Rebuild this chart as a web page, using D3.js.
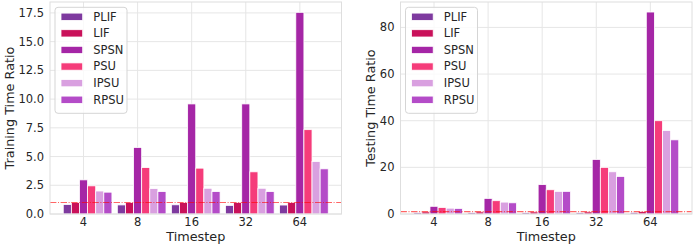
<!DOCTYPE html>
<html>
<head>
<meta charset="utf-8">
<script src="https://cdn.jsdelivr.net/npm/d3@7"></script>
<style>
  body { margin: 0; background: #fff; }
  svg { display: block; font-family: 'DejaVu Sans', sans-serif; }
</style>
</head>
<body>
<svg id="chart" width="697" height="245"></svg>
<script>
// data
var timesteps = ['4', '8', '16', '32', '64']
var models = ['PLIF', 'LIF', 'SPSN', 'PSU', 'IPSU', 'RPSU']
var colors = ['#7e3a9f', '#c9115a', '#a526a6', '#f53c7a', '#d9a0e0', '#b44cc8']

var trainPLIF = [0.82, 0.79, 0.80, 0.75, 0.78]
var trainLIF = [1.0, 1.0, 1.0, 1.0, 1.0]
var trainSPSN = [2.97, 5.79, 9.58, 9.58, 17.55]
var trainPSU = [2.45, 4.04, 3.99, 3.67, 7.34]
var trainIPSU = [2.0, 2.21, 2.24, 2.24, 4.57]
var trainRPSU = [1.9, 1.95, 1.95, 1.95, 3.93]

var testPLIF = [0.6, 0.6, 0.6, 0.6, 0.7]
var testLIF = [0.9, 0.9, 0.9, 0.9, 1.0]
var testSPSN = [3.3, 6.7, 12.6, 23.4, 86.6]
var testPSU = [2.8, 5.7, 10.4, 20.0, 40.0]
var testIPSU = [2.5, 5.1, 9.7, 18.1, 35.8]
var testRPSU = [2.4, 4.8, 9.7, 16.1, 31.8]

var trainTicks = [0, 2.5, 5, 7.5, 10, 12.5, 15, 17.5]
var testTicks = [0, 20, 40, 60, 80]

var svg = d3.select('#chart')
const barW = 0.15
const plotTop = 2
const plotBottom = 214
const plotW = 291.5

var drawPanel = function (left, series, yMax, yTicks, fmt, yLabel, labelX) {
  var g = svg.append('g')
  var x = d3.scaleLinear().domain([-0.62, 4.77]).range([left, left + plotW])
  var y = d3.scaleLinear().domain([0, yMax]).range([plotBottom, plotTop])

  // grid
  g.selectAll('line.hgrid').data(yTicks).enter().append('line')
    .attr('x1', left).attr('x2', left + plotW)
    .attr('y1', d => y(d)).attr('y2', d => y(d))
    .style('stroke', '#e6e6e6').style('stroke-width', 1)
  g.selectAll('line.vgrid').data(timesteps).enter().append('line')
    .attr('x1', (d, i) => x(i)).attr('x2', (d, i) => x(i))
    .attr('y1', plotTop).attr('y2', plotBottom)
    .style('stroke', '#e6e6e6').style('stroke-width', 1)

  // bars
  series.forEach((vals, j) => {
    g.selectAll(null).data(vals).enter().append('rect')
      .attr('x', (d, i) => x(i + (j - 2) * barW - barW / 2))
      .attr('y', d => y(d))
      .attr('width', x(barW) - x(0))
      .attr('height', d => plotBottom - y(d))
      .style('fill', colors[j])
      .style('stroke', '#fff')
      .style('stroke-width', 0.8)
  })

  // reference line at 1
  g.append('line')
    .attr('x1', left).attr('x2', left + plotW)
    .attr('y1', y(1)).attr('y2', y(1))
    .style('stroke', '#ff0000')
    .style('stroke-opacity', 0.6)
    .style('stroke-width', 1.1)
    .style('stroke-dasharray', '6.4,1.6,1,1.6')

  // frame
  g.append('rect')
    .attr('x', left).attr('y', plotTop)
    .attr('width', plotW).attr('height', plotBottom - plotTop)
    .style('fill', 'none').style('stroke', '#dedede').style('stroke-width', 1)

  // tick labels
  g.selectAll('text.ytick').data(yTicks).enter().append('text')
    .attr('x', left - 6).attr('y', d => y(d))
    .attr('text-anchor', 'end')
    .attr('dominant-baseline', 'central')
    .style('font-size', '11.5px').style('fill', '#262626')
    .text(d => d3.format(fmt)(d))
  g.selectAll('text.xtick').data(timesteps).enter().append('text')
    .attr('x', (d, i) => x(i)).attr('y', 226)
    .attr('text-anchor', 'middle')
    .style('font-size', '11.5px').style('fill', '#262626')
    .text(d => d)

  // axis labels
  g.append('text')
    .attr('x', left + plotW / 2).attr('y', 240.5)
    .attr('text-anchor', 'middle')
    .style('font-size', '12.8px').style('fill', '#262626')
    .text('Timestep')
  g.append('text')
    .attr('transform', 'translate(' + labelX + ',' + ((plotTop + plotBottom) / 2) + ') rotate(-90)')
    .attr('text-anchor', 'middle')
    .style('font-size', '12.8px').style('fill', '#262626')
    .text(yLabel)

  // legend
  var lg = g.append('g').attr('transform', 'translate(' + (left + 5) + ',7.3)')
  lg.append('rect')
    .attr('width', 72).attr('height', 106).attr('rx', 3)
    .style('fill', '#fff').style('fill-opacity', 0.8)
    .style('stroke', '#d5d5d5').style('stroke-width', 1)
  models.forEach((m, k) => {
    var cy = 9.4 + k * 16.6
    lg.append('rect')
      .attr('x', 6).attr('y', cy - 3.6)
      .attr('width', 21.7).attr('height', 7.3)
      .style('fill', colors[k])
      .style('stroke', '#fff').style('stroke-width', 0.8)
    lg.append('text')
      .attr('x', 38.3).attr('y', cy)
      .attr('dominant-baseline', 'central')
      .style('font-size', '11.5px').style('fill', '#262626')
      .text(m)
  })
}

drawPanel(50, [trainPLIF, trainLIF, trainSPSN, trainPSU, trainIPSU, trainRPSU],
  18.45, trainTicks, '.1f', 'Training Time Ratio', 13.5)
drawPanel(400.5, [testPLIF, testLIF, testSPSN, testPSU, testIPSU, testRPSU],
  90.9, testTicks, 'd', 'Testing Time Ratio', 375)
</script>
</body>
</html>
